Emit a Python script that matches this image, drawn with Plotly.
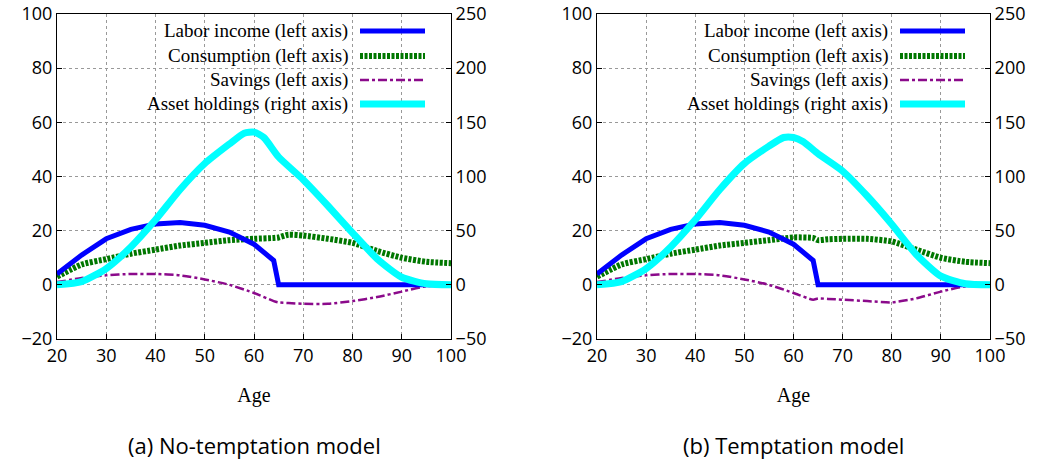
import plotly.graph_objects as go

# Panel (a) No-temptation, panel (b) Temptation
age_li = [20, 25, 30, 35, 40, 43, 45, 50, 55, 60, 64, 65, 70, 80, 90, 100]
labor_a = [4, 11, 17, 20.5, 22.5, 23, 23, 22, 19.5, 15, 9, 0, 0, 0, 0, 0]
labor_b = [4, 11, 17, 20.5, 22.5, 23, 23, 22, 19.5, 15, 9, 0, 0, 0, 0, 0]

age_c = [20, 25, 30, 35, 40, 45, 50, 55, 60, 64, 65, 67, 70, 75, 80, 85, 90, 95, 100]
cons_a = [3, 7.5, 9.5, 11.5, 13, 14.5, 15.5, 16.5, 17, 17.3, 17.5, 18.5, 18.2, 17, 15.5, 12.5, 10, 8.5, 8]
cons_b = [3, 7.5, 9.5, 11.5, 13, 14.5, 15.5, 16.5, 17.5, 17.3, 16.5, 16.8, 17, 17, 16, 13, 10, 8.5, 8]
sav_a = [1, 2.5, 3.5, 4, 4, 3.5, 2, 0, -3, -6, -6.5, -6.7, -7, -7, -6, -4.5, -2.5, -0.5, 0]
sav_b = [1, 2.5, 3.5, 4, 4, 3.5, 2, 0, -3, -5.5, -5, -5.2, -5.5, -6, -6.5, -5, -2.5, -0.5, 0]

age_s = [20, 25, 30, 35, 40, 45, 50, 55, 58, 60, 62, 65, 70, 75, 80, 85, 90, 95, 100]
asset_a = [0, 3, 15, 35, 60, 88, 112, 130, 140, 141, 136, 118, 97, 73, 48, 24, 7, 1, 0]
asset_b = [0, 3, 15, 35, 60, 88, 112, 128, 136, 136, 132, 121, 105, 82, 56, 28, 8, 1, 0]

names = ["Labor income (left axis)", "Consumption (left axis)",
         "Savings (left axis)", "Asset holdings (right axis)"]
styles = [dict(color="#0000ff", width=5),
          dict(color="#007700", width=6, dash="3px,1.5px"),
          dict(color="#8b0a8b", width=2.5, dash="dashdot"),
          dict(color="#00ffff", width=7)]
captions = ["(a) No-temptation model", "(b) Temptation model"]

fig = go.Figure()
W, H = 1051, 466
doms = [(57 / W, 451 / W), (597 / W, 990 / W)]
ydom = (1 - 339 / H, 1 - 14 / H)
panels = [(labor_a, cons_a, sav_a, asset_a), (labor_b, cons_b, sav_b, asset_b)]
serif = "Liberation Serif"
sans = "Open Sans"

for i, (lab, con, sav, ast) in enumerate(panels):
    xa = "x" if i == 0 else "x2"
    ya, yb = ("y", "y2") if i == 0 else ("y3", "y4")
    fig.add_trace(go.Scatter(x=age_c, y=con, xaxis=xa, yaxis=ya, mode="lines", line=dict(**styles[1], shape="spline", smoothing=0.6)))
    fig.add_trace(go.Scatter(x=age_c, y=sav, xaxis=xa, yaxis=ya, mode="lines", line=dict(**styles[2], shape="spline", smoothing=0.6)))
    fig.add_trace(go.Scatter(x=age_li, y=lab, xaxis=xa, yaxis=ya, mode="lines", line=styles[0]))
    fig.add_trace(go.Scatter(x=age_s, y=ast, xaxis=xa, yaxis=yb, mode="lines", line=dict(**styles[3], shape="spline", smoothing=0.6)))

    axcommon = dict(showline=True, mirror=True, linecolor="black", linewidth=1,
                    ticks="inside", ticklen=5, tickcolor="black", automargin=False,
                    tickfont=dict(family=sans, size=18, color="black"), zeroline=False)
    xkey = "xaxis" if i == 0 else "xaxis2"
    fig.layout[xkey] = dict(domain=doms[i], range=[20, 100], dtick=10, anchor=ya,
                            showgrid=True, gridcolor="#999", griddash="dot",
                            title=dict(text="Age", font=dict(family=serif, size=20, color="black"), standoff=22),
                            **axcommon)
    yk1 = "yaxis" if i == 0 else "yaxis3"
    yk2 = "yaxis2" if i == 0 else "yaxis4"
    fig.layout[yk1] = dict(domain=ydom, range=[-20, 100], dtick=20, anchor=xa,
                           showgrid=True, gridcolor="#999", griddash="dot", **axcommon)
    fig.layout[yk2] = dict(domain=ydom, range=[-50, 250], dtick=50, anchor=xa,
                           overlaying=yk1.replace("axis", ""), side="right", showgrid=False,
                           **axcommon)

    off = doms[i][0] * W - 57
    rows = [31, 56, 80, 104]
    for k in range(4):
        yy = 1 - rows[k] / H
        fig.add_annotation(xref="paper", yref="paper", x=(350 + off) / W, y=yy, text=names[k],
                           showarrow=False, xanchor="right", yanchor="middle",
                           font=dict(family=serif, size=19, color="black"))
        fig.add_shape(type="line", xref="paper", yref="paper", x0=(360 + off) / W, x1=(425 + off) / W,
                      y0=yy, y1=yy, line=styles[k])
    fig.add_annotation(xref="paper", yref="paper", x=(doms[i][0] + doms[i][1]) / 2, y=1 - 445 / H,
                       text=captions[i], showarrow=False, xanchor="center", yanchor="middle",
                       font=dict(family=sans, size=22, color="black"))

fig.update_layout(width=W, height=H, showlegend=False, plot_bgcolor="white", paper_bgcolor="white",
                  margin=dict(l=0, r=0, t=0, b=0))
fig.write_html("out.html", config={"displayModeBar": False},
               post_script="document.body.style.margin='0';document.body.style.padding='0';")
